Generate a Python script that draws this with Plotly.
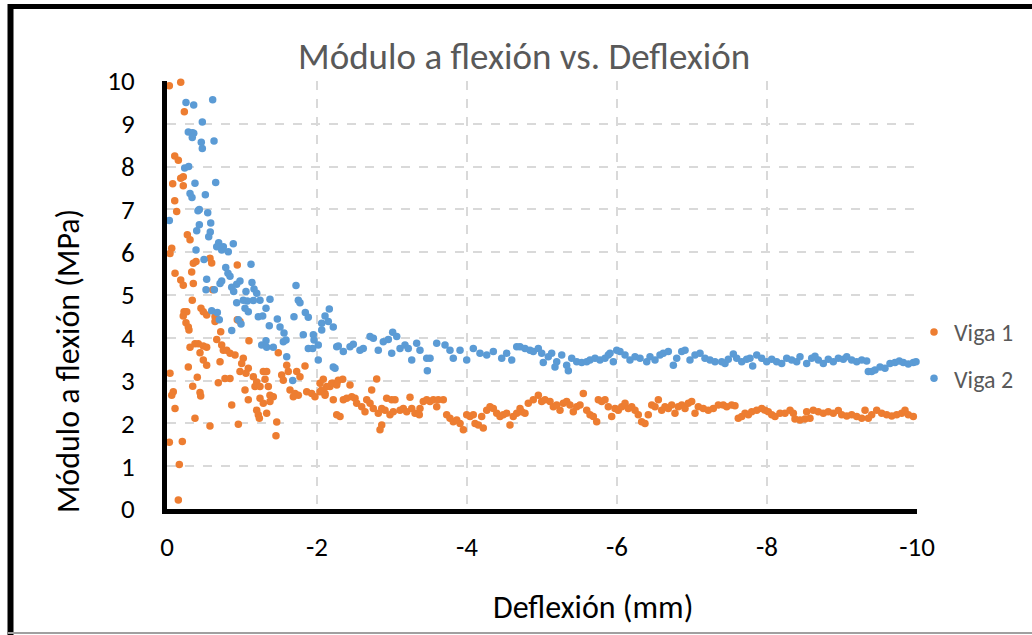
import plotly.graph_objects as go

# ---------------- data (deflexión mm, módulo MPa) ----------------
viga1_inicio = [
    (-0.031, 9.89), (-0.183, 9.97), (-0.231, 9.28), (-0.103, 8.25), (-0.151, 8.15), (-0.183, 7.73), (-0.217, 7.76), (-0.076, 7.60), (-0.217, 7.55), (-0.103, 7.20),
    (-0.129, 6.95), (-0.271, 6.41), (-0.307, 6.29), (-0.063, 6.09), (-0.04, 5.97), (-0.351, 5.74), (-0.387, 5.78), (-0.329, 5.54), (-0.573, 5.86), (-0.596, 5.75),
    (-0.937, 5.70), (-0.107, 5.51), (-0.183, 5.35), (-0.217, 5.23), (-0.351, 5.27), (-0.609, 5.12), (-0.337, 4.88), (-0.227, 4.61), (-0.263, 4.61), (-0.217, 4.51),
    (-0.453, 4.69), (-0.484, 4.61), (-0.529, 4.53), (-0.64, 4.49), (-0.64, 4.38), (-0.937, 4.42), (-0.973, 4.38), (-0.253, 4.35), (-0.284, 4.25), (-0.293, 4.18),
    (-0.716, 4.14), (-0.663, 3.96), (-1.093, 3.93), (-0.307, 3.78), (-0.373, 3.86), (-0.417, 3.86), (-0.484, 3.81), (-0.529, 3.78), (-0.729, 3.83), (-0.751, 3.71),
    (-0.796, 3.71), (-0.84, 3.64), (-0.907, 3.60), (-0.44, 3.65), (-1.017, 3.52), (-0.996, 3.40), (-0.484, 3.48), (-0.529, 3.36), (-0.707, 3.44), (-1.484, 3.65),
    (-0.284, 3.32), (-1.084, 3.29), (-0.973, 3.21), (-1.053, 3.17), (-1.596, 3.36), (-1.617, 3.21), (-1.84, 3.34), (-1.284, 3.21), (-1.329, 3.21), (-0.04, 3.17),
    (-1.151, 3.09), (-1.196, 2.97), (-1.529, 3.13), (-1.551, 3.01), (-1.729, 3.21), (-1.773, 3.09), (-1.307, 3.03), (-1.351, 2.86), (-1.373, 2.66), (-0.404, 3.08),
    (-0.773, 3.05), (-0.84, 3.05), (-0.684, 2.95), (-0.343, 2.87), (-0.084, 2.74), (-0.063, 2.66), (-0.44, 2.72), (-0.449, 2.64), (-1.04, 2.78), (-1.173, 2.86),
    (-1.24, 2.86), (-1.64, 2.78), (-1.707, 2.70), (-1.751, 2.66), (-1.684, 2.62), (-1.863, 2.74), (-1.929, 2.70), (-1.973, 2.62), (-2.04, 2.74), (-2.107, 2.70),
    (-2.173, 2.86), (-2.217, 2.94), (-2.263, 2.94), (-1.084, 2.55), (-1.24, 2.59), (-1.284, 2.47), (-1.417, 2.62), (-0.863, 2.43), (-0.107, 2.35), (-1.196, 2.31),
    (-1.217, 2.20), (-0.373, 2.12), (-1.329, 2.24), (-2.263, 2.20), (-0.573, 1.94), (-0.951, 1.98), (-1.231, 2.12), (-1.373, 2.51), (-1.463, 2.03), (-1.453, 1.71),
    (-0.031, 1.56), (-0.204, 1.58), (-0.164, 1.04), (-0.151, 0.21),
]
viga1_medio = [
    (-2.084, 3.03), (-2.04, 2.94), (-2.129, 2.86), (-2.063, 2.78), (-2.107, 2.66), (-2.217, 2.55), (-2.196, 2.94), (-2.263, 2.90), (-2.284, 3.01), (-2.343, 3.03),
    (-2.44, 2.90), (-2.351, 2.55), (-2.396, 2.59), (-2.463, 2.62), (-2.507, 2.59), (-2.529, 2.47), (-2.596, 2.39), (-2.64, 2.27), (-2.663, 2.55), (-2.707, 2.47),
    (-2.729, 2.78), (-2.751, 2.35), (-2.796, 3.04), (-2.817, 2.24), (-2.863, 2.35), (-2.907, 2.31), (-2.929, 2.59), (-2.973, 2.20), (-2.996, 2.55), (-3.04, 2.55),
    (-3.017, 2.27), (-3.107, 2.31), (-3.151, 2.35), (-3.196, 2.27), (-3.24, 2.61), (-3.263, 2.35), (-3.307, 2.24), (-3.364, 2.20), (-3.373, 2.35), (-3.417, 2.51),
    (-3.463, 2.55), (-3.507, 2.51), (-3.551, 2.55), (-3.596, 2.39), (-3.617, 2.55), (-3.684, 2.55), (-2.307, 2.16), (-2.863, 1.96), (-2.84, 1.85), (-3.729, 2.20),
    (-3.773, 2.12), (-3.817, 2.04), (-3.863, 2.08), (-3.907, 2.00), (-3.951, 1.85), (-3.996, 2.20), (-4.04, 2.16), (-4.084, 2.20), (-4.107, 2.00), (-4.151, 1.96),
    (-4.196, 2.16), (-4.217, 1.89), (-4.263, 2.31), (-4.307, 2.39), (-4.351, 2.35), (-4.396, 2.24), (-4.44, 2.16), (-4.484, 2.20), (-4.529, 2.24), (-4.573, 1.96),
    (-4.617, 2.16), (-4.663, 2.24), (-4.707, 2.35),
    (-4.729, 2.27), (-4.773, 2.24), (-4.817, 2.47), (-4.884, 2.55), (-4.951, 2.66), (-4.996, 2.51), (-5.04, 2.55), (-5.107, 2.51), (-5.151, 2.39), (-5.196, 2.43),
    (-5.24, 2.31), (-5.284, 2.47), (-5.329, 2.51), (-5.373, 2.43), (-5.417, 2.27), (-5.463, 2.39), (-5.507, 2.43), (-5.551, 2.70), (-5.596, 2.31), (-5.64, 2.20),
    (-5.684, 2.16), (-5.729, 2.04), (-5.751, 2.55), (-5.796, 2.51), (-5.84, 2.55), (-5.884, 2.39), (-5.929, 2.16), (-5.973, 2.35), (-6.017, 2.31), (-6.063, 2.39),
    (-6.107, 2.47), (-6.151, 2.35), (-6.196, 2.39), (-6.24, 2.31), (-6.284, 2.20), (-6.329, 2.04), (-6.373, 2.00), (-6.417, 2.20), (-6.463, 2.43), (-6.507, 2.39),
    (-6.551, 2.55), (-6.596, 2.31), (-6.64, 2.39), (-6.684, 2.35), (-6.729, 2.43), (-6.773, 2.24), (-6.817, 2.39), (-6.863, 2.43), (-6.907, 2.35), (-6.951, 2.47),
    (-6.996, 2.51), (-7.04, 2.24), (-7.084, 2.39), (-7.151, 2.35), (-7.217, 2.31), (-7.284, 2.35), (-7.351, 2.43),
]
viga1_final = [
    (-7.417, 2.43), (-7.463, 2.39), (-7.529, 2.43), (-7.573, 2.41), (-7.617, 2.12), (-7.663, 2.16), (-7.707, 2.24), (-7.751, 2.20), (-7.796, 2.27), (-7.863, 2.31),
    (-7.929, 2.35), (-7.973, 2.31), (-8.017, 2.27), (-8.063, 2.20), (-8.107, 2.16), (-8.173, 2.24), (-8.24, 2.24), (-8.307, 2.31), (-8.351, 2.24), (-8.373, 2.10),
    (-8.44, 2.08), (-8.507, 2.10), (-8.529, 2.27), (-8.573, 2.12), (-8.617, 2.31), (-8.684, 2.27), (-8.751, 2.24), (-8.817, 2.27), (-8.884, 2.24), (-8.951, 2.30),
    (-8.996, 2.20), (-9.063, 2.17), (-9.129, 2.20), (-9.196, 2.16), (-9.263, 2.12), (-9.307, 2.31), (-9.351, 2.12), (-9.396, 2.20), (-9.463, 2.31), (-9.529, 2.24),
    (-9.596, 2.20), (-9.663, 2.17), (-9.729, 2.20), (-9.796, 2.24), (-9.84, 2.31), (-9.884, 2.20), (-9.951, 2.16),
]

viga2_inicio = [
    (-0.253, 9.50), (-0.356, 9.44), (-0.609, 9.56), (-0.471, 9.04), (-0.284, 8.81), (-0.337, 8.79), (-0.356, 8.78), (-0.337, 8.68), (-0.457, 8.57), (-0.627, 8.60),
    (-0.471, 8.42), (-0.236, 7.97), (-0.289, 8.00), (-0.649, 7.63), (-0.373, 7.61), (-0.307, 7.37), (-0.333, 7.28), (-0.511, 7.34), (-0.431, 7.00), (-0.413, 6.97),
    (-0.543, 6.92), (-0.031, 6.74), (-0.583, 6.68), (-0.431, 6.64), (-0.396, 6.50), (-0.577, 6.47), (-0.556, 6.36), (-0.884, 6.20), (-0.689, 6.22), (-0.663, 6.13),
    (-0.729, 6.05), (-0.387, 6.05), (-0.751, 6.13), (-0.817, 6.01), (-0.493, 5.83), (-1.12, 5.72), (-0.783, 5.64), (-0.813, 5.51), (-0.84, 5.44), (-0.729, 5.33),
    (-0.707, 5.27), (-0.529, 5.37), (-0.973, 5.33), (-0.929, 5.25), (-1.133, 5.29), (-1.16, 5.14), (-0.52, 5.12), (-0.631, 5.12), (-0.863, 5.18), (-0.889, 5.08),
    (-1.053, 5.08), (-1.72, 5.22), (-1.196, 5.04), (-1.24, 4.88), (-1.151, 4.87), (-1.071, 4.86), (-1.017, 4.88), (-0.929, 4.82), (-1.373, 4.90), (-1.751, 4.88),
    (-1.773, 4.82), (-1.04, 4.69), (-1.084, 4.61), (-1.32, 4.69), (-0.596, 4.63), (-0.671, 4.59), (-0.697, 4.42), (-1.217, 4.49), (-1.276, 4.51), (-0.951, 4.42),
    (-0.987, 4.32), (-1.471, 4.44), (-1.693, 4.49), (-1.844, 4.59), (-1.884, 4.48), (-2.164, 4.67), (-2.107, 4.51), (-2.063, 4.34), (-2.217, 4.25), (-1.364, 4.28),
    (-1.507, 4.25), (-1.56, 4.11), (-1.587, 3.95), (-0.863, 4.17), (-1.817, 4.07), (-1.951, 4.07), (-1.96, 3.95), (-1.32, 3.93), (-1.263, 3.83), (-1.329, 3.78),
    (-1.417, 3.78), (-1.551, 3.91), (-2.017, 3.83), (-1.943, 3.75), (-1.884, 3.75), (-2.263, 3.79), (-1.596, 3.56), (-2.017, 3.48), (-2.217, 3.32), (-1.676, 3.00),
    (-2.151, 4.38), (-2.063, 4.18), (-2.24, 3.29),
]
viga2_medio = [
    (-2.284, 3.81), (-2.351, 3.68), (-2.44, 3.79), (-2.484, 3.85), (-2.573, 3.71), (-2.617, 3.75), (-2.707, 4.03), (-2.751, 3.99), (-2.817, 3.71), (-2.884, 3.91),
    (-2.951, 3.96), (-3.009, 4.13), (-3.063, 4.03), (-2.996, 3.64), (-3.107, 3.75), (-3.173, 3.83), (-3.217, 3.75), (-3.329, 3.87), (-3.373, 3.71), (-3.263, 3.48),
    (-3.463, 3.52), (-3.507, 3.52), (-3.471, 3.23), (-3.596, 3.87), (-3.707, 3.83), (-3.773, 3.71), (-3.817, 3.52), (-3.907, 3.71), (-3.996, 3.48), (-4.084, 3.75),
    (-4.173, 3.64), (-4.263, 3.60), (-4.351, 3.68), (-4.463, 3.52), (-4.529, 3.64), (-4.596, 3.48), (-4.663, 3.79),
    (-4.707, 3.79), (-4.773, 3.75), (-4.84, 3.71), (-4.884, 3.68), (-4.951, 3.75), (-4.996, 3.64), (-5.017, 3.42), (-5.084, 3.56), (-5.129, 3.64), (-5.173, 3.32),
    (-5.196, 3.44), (-5.263, 3.60), (-5.329, 3.36), (-5.351, 3.23), (-5.396, 3.52), (-5.463, 3.44), (-5.529, 3.42), (-5.596, 3.44), (-5.64, 3.48), (-5.707, 3.52),
    (-5.773, 3.48), (-5.84, 3.52), (-5.884, 3.60), (-5.907, 3.64), (-5.951, 3.44), (-5.996, 3.71), (-6.04, 3.68), (-6.107, 3.60), (-6.173, 3.48), (-6.24, 3.56),
    (-6.307, 3.52), (-6.396, 3.44), (-6.44, 3.56), (-6.507, 3.48), (-6.573, 3.60), (-6.617, 3.64), (-6.684, 3.68), (-6.751, 3.36), (-6.796, 3.52), (-6.863, 3.68),
    (-6.907, 3.71), (-6.973, 3.48), (-7.04, 3.60), (-7.107, 3.64), (-7.173, 3.52), (-7.24, 3.48), (-7.307, 3.44),
]
viga2_final = [
    (-7.396, 3.44), (-7.44, 3.40), (-7.484, 3.50), (-7.551, 3.62), (-7.596, 3.52), (-7.663, 3.44), (-7.729, 3.50), (-7.773, 3.52), (-7.809, 3.34), (-7.863, 3.60),
    (-7.929, 3.52), (-7.996, 3.44), (-8.063, 3.50), (-8.129, 3.44), (-8.196, 3.40), (-8.263, 3.52), (-8.329, 3.48), (-8.396, 3.44), (-8.44, 3.56), (-8.529, 3.40),
    (-8.596, 3.52), (-8.64, 3.57), (-8.684, 3.48), (-8.751, 3.40), (-8.817, 3.50), (-8.884, 3.44), (-8.951, 3.52), (-9.017, 3.50), (-9.063, 3.56), (-9.129, 3.48),
    (-9.196, 3.44), (-9.263, 3.48), (-9.329, 3.46), (-9.351, 3.21), (-9.396, 3.21), (-9.44, 3.25), (-9.507, 3.32), (-9.573, 3.29), (-9.64, 3.40), (-9.707, 3.42),
    (-9.764, 3.46), (-9.817, 3.42), (-9.884, 3.39), (-9.951, 3.42), (-9.987, 3.44),
]

x_ticks = [0, -2, -4, -6, -8, -10]
x_tick_labels = ["0", "-2", "-4", "-6", "-8", "-10"]
y_ticks = [0, 1, 2, 3, 4, 5, 6, 7, 8, 9, 10]

titulo = "Módulo a flexión vs. Deflexión"
titulo_x = "Deflexión (mm)"
titulo_y = "Módulo a flexión (MPa)"

viga1 = viga1_inicio + viga1_medio + viga1_final
viga2 = viga2_inicio + viga2_medio + viga2_final

FONT = "Carlito, Lato, 'DejaVu Sans', sans-serif"

fig = go.Figure()
fig.add_trace(go.Scatter(
    x=[p[0] for p in viga1], y=[p[1] for p in viga1], mode="markers", name="Viga 1",
    marker=dict(color="#ED7D31", size=7.5, line=dict(width=0)), cliponaxis=False, legendgroup="v1"))
fig.add_trace(go.Scatter(
    x=[p[0] for p in viga2], y=[p[1] for p in viga2], mode="markers", name="Viga 2",
    marker=dict(color="#5B9BD5", size=7.5, line=dict(width=0)), cliponaxis=False, legendgroup="v2"))

# plot area: x 167..917 px, y 81..509 px
L, R, T, B = 167, 115, 81, 126
PW, PH = 750.0, 428.0


def px(xp):
    return (xp - L) / PW


def py(yp):
    return (509 - yp) / PH


fig.update_layout(
    width=1032, height=635,
    margin=dict(l=L, r=R, t=T, b=B, pad=0),
    paper_bgcolor="white", plot_bgcolor="white",
    font=dict(family=FONT, color="black"),
    showlegend=True,
    legend=dict(x=px(914), y=py(310), xanchor="left", yanchor="top",
                font=dict(size=24, color="#595959", family=FONT),
                tracegroupgap=12, bgcolor="rgba(0,0,0,0)"),
    xaxis=dict(range=[0, -10], tickvals=x_ticks, ticktext=x_tick_labels,
               showgrid=True, gridcolor="#D9D9D9", gridwidth=2, griddash="dash",
               zeroline=False, showline=True, linecolor="black", linewidth=5,
               ticks="outside", ticklen=10, tickcolor="rgba(0,0,0,0)",
               tickfont=dict(size=27, color="black")),
    yaxis=dict(range=[0, 10], tickvals=y_ticks,
               showgrid=True, gridcolor="#D9D9D9", gridwidth=2, griddash="dash",
               zeroline=False, showline=True, linecolor="black", linewidth=5,
               ticks="outside", ticklen=22, tickcolor="rgba(0,0,0,0)",
               tickfont=dict(size=27, color="black")),
    annotations=[
        dict(text=titulo, x=px(524), y=py(56), xref="paper", yref="paper",
             xanchor="center", yanchor="middle", showarrow=False,
             font=dict(size=37, color="#595959", family=FONT)),
        dict(text=titulo_x, x=px(593), y=py(607), xref="paper", yref="paper",
             xanchor="center", yanchor="middle", showarrow=False,
             font=dict(size=32, color="black", family=FONT)),
        dict(text=titulo_y, x=px(68), y=py(361), xref="paper", yref="paper",
             xanchor="center", yanchor="middle", showarrow=False, textangle=-90,
             font=dict(size=32, color="black", family=FONT)),
    ],
    shapes=[
        dict(type="line", xref="paper", yref="paper", x0=px(10.5), x1=px(10.5), y0=py(4), y1=py(640),
             line=dict(color="black", width=6)),
        dict(type="line", xref="paper", yref="paper", x0=px(8), x1=px(1040), y0=py(6.5), y1=py(6.5),
             line=dict(color="black", width=5)),
        dict(type="line", xref="paper", yref="paper", x0=px(8), x1=px(1040), y0=py(633), y1=py(633),
             line=dict(color="#A0A0A0", width=2)),
    ],
)

fig.write_html("out.html")
